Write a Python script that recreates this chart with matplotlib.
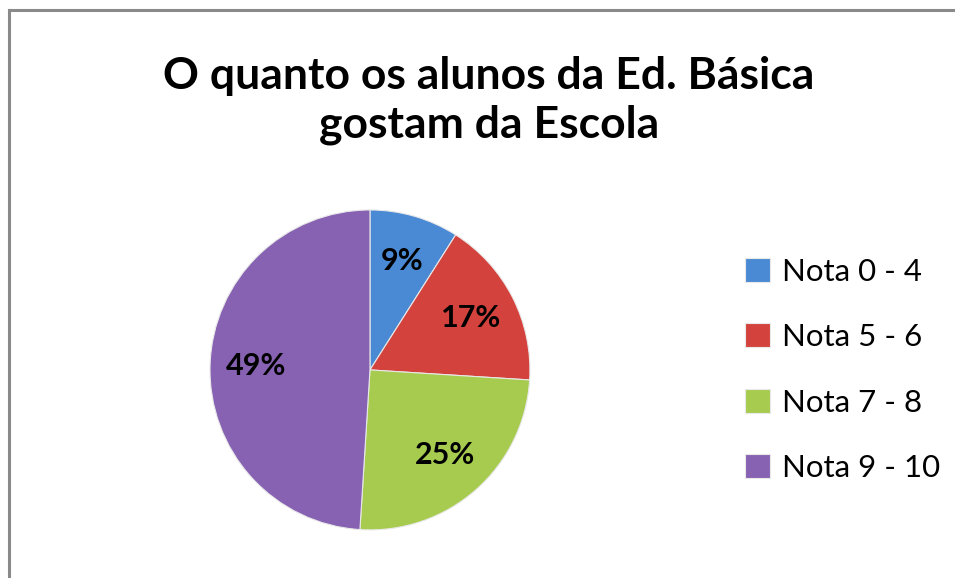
import matplotlib
matplotlib.use('Agg')
import matplotlib.pyplot as plt
from matplotlib.lines import Line2D

labels = ["Nota 0 - 4", "Nota 5 - 6", "Nota 7 - 8", "Nota 9 - 10"]
values = [9, 17, 25, 49]
colors = ["#4A8AD4", "#D4423D", "#A6CB4E", "#8762B2"]
title = "O quanto os alunos da Ed. Básica\ngostam da Escola"

plt.rcParams['font.family'] = ['Lato', 'DejaVu Sans']

fig = plt.figure(figsize=(9.55, 5.78), dpi=100)
fig.patch.set_facecolor("white")

# frame lines (only top and left visible in the reference)
fig.add_artist(Line2D([0.0095, 1.0], [0.983, 0.983], color="#8a8a8a", lw=2.2))
fig.add_artist(Line2D([0.0095, 0.0095], [0.0, 0.983], color="#8a8a8a", lw=2.2))

ax = fig.add_axes([0.2199, 0.083, 0.335, 0.554])
wedges, texts, autotexts = ax.pie(values, colors=colors, startangle=90, counterclock=False,
	autopct="%d%%", pctdistance=0.71,
	wedgeprops=dict(edgecolor="#e8e8e8", linewidth=0.8),
	textprops=dict(fontsize=22, fontweight="bold", color="black"))
ax.set_xlim(-1, 1)
ax.set_ylim(-1, 1)
ax.set_aspect("equal")

fig.text(0.512, 0.826, title, ha="center", va="center", fontsize=32, fontweight="bold",
	linespacing=1.25)

leg = fig.legend(wedges, labels, loc="center left", bbox_to_anchor=(0.78, 0.36),
	frameon=False, fontsize=22.5, handlelength=0.8, handleheight=0.8,
	handletextpad=0.4, labelspacing=1.2, borderpad=0, borderaxespad=0)

plt.savefig("out.png", dpi=100)
